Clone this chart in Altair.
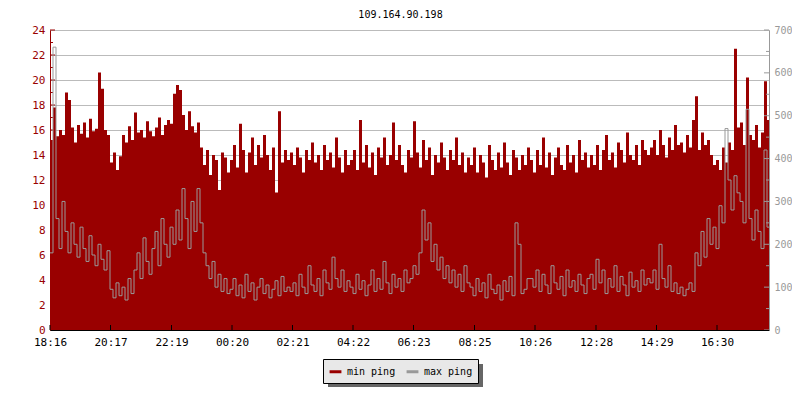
import altair as alt
import pandas as pd

FONT = "DejaVu Sans Mono"
title_text = "109.164.90.198"

tick_minutes = [0, 121, 243, 364, 485, 606, 727, 849, 970, 1092, 1213, 1334]
tick_labels = ["18:16", "20:17", "22:19", "00:20", "02:21", "04:22",
               "06:23", "08:25", "10:26", "12:28", "14:29", "16:30"]
step_minutes = 6

min_ping = [
    15.2, 17.8, 15.5, 16.0, 15.6, 19.0, 18.4, 16.2, 15.0, 16.4, 15.7, 16.6, 15.4, 16.9, 15.9, 16.1, 20.6, 19.3, 16.0, 15.6,
    13.4, 14.2, 12.8, 13.9, 15.6, 15.0, 16.3, 15.2, 17.4, 15.8, 16.0, 15.4, 16.7, 15.9, 15.5, 16.2, 17.0, 15.6, 16.4, 16.8,
    16.5, 18.9, 19.6, 19.2, 17.2, 16.0, 17.5, 16.3, 15.8, 16.6, 14.6, 13.2, 14.4, 12.4, 14.0, 13.6, 11.2, 14.2, 13.8, 12.6,
    13.6, 14.8, 13.0, 16.5, 14.4, 12.6, 14.2, 15.4, 13.2, 14.8, 13.8, 15.6, 14.0, 12.8, 14.6, 11.0, 17.5, 13.4, 14.4, 13.6,
    14.2, 13.2, 14.6, 13.8, 12.6, 14.4, 13.6, 15.0, 13.4, 14.0, 12.8, 14.8, 13.6, 14.2, 13.0, 15.4, 13.8, 12.6, 14.4, 13.2,
    13.6, 14.4, 12.8, 16.8, 13.4, 14.8, 13.0, 14.2, 12.4, 14.6, 13.8, 15.4, 13.2, 14.0, 16.6, 13.6, 14.8, 13.2, 12.6, 14.4,
    13.8, 16.7, 14.2, 13.0, 15.2, 13.6, 14.6, 12.4, 14.0, 13.4, 15.0, 13.8, 12.8, 14.4, 13.6, 15.4, 13.2, 14.2, 12.6, 13.8,
    13.2, 14.6, 12.6, 14.0, 13.4, 12.2, 14.8, 13.6, 12.8, 14.2, 13.0, 15.0, 13.4, 12.4, 14.4, 13.8, 12.8, 14.0, 13.2, 14.6,
    13.6, 12.6, 14.4, 13.2, 15.4, 13.0, 14.2, 12.4, 13.8, 14.6, 13.2, 12.8, 14.8, 13.4, 14.0, 12.6, 15.2, 13.6, 14.2, 13.0,
    14.0, 13.2, 14.8, 12.8, 14.4, 15.6, 13.6, 14.2, 13.0, 15.0, 14.4, 13.4, 15.8, 14.0, 13.6, 14.8, 13.2, 15.2, 14.4, 14.0,
    14.6, 15.2, 14.0, 16.0, 14.8, 13.8, 15.4, 14.4, 16.4, 14.8, 15.0, 14.2, 15.6, 14.6, 16.8, 18.7, 14.4, 15.8, 14.8, 15.2,
    14.0, 13.2, 13.6, 12.8, 14.6, 13.4, 15.0, 14.4, 22.5, 16.2, 16.6, 14.8, 20.2, 15.6, 15.2, 16.4, 14.6, 15.8, 19.9, 16.8,
]

max_ping = [
    180, 660, 260, 190, 300, 230, 180, 250, 200, 170, 240, 190, 160, 220, 175, 150, 200, 165, 140, 185,
    95, 75, 110, 80, 100, 70, 120, 85, 140, 180, 120, 215, 160, 130, 190, 230, 150, 260, 200, 170,
    240, 200, 280, 210, 330, 260, 190, 300, 230, 330, 250, 180, 150, 120, 160, 100, 130, 90, 120, 85,
    95, 120, 80, 105, 75, 130, 90, 110, 70, 100, 120, 85, 105, 75, 95, 115, 80, 125, 90, 100,
    90, 110, 80, 130, 100, 85, 150, 105, 90, 120, 80, 140, 110, 95, 170, 120, 100, 140, 90, 115,
    100, 85, 130, 95, 115, 80, 105, 140, 90, 120, 95, 160, 110, 85, 130, 100, 120, 90, 140, 110,
    120, 150, 130, 180, 280, 210, 250, 160, 200, 140, 170, 120, 150, 110, 140, 100, 130, 90, 150, 110,
    100, 80, 120, 90, 110, 75, 130, 95, 85, 105, 70, 115, 90, 125, 80, 250, 200, 85, 95, 120,
    120, 100, 140, 90, 130, 105, 85, 150, 110, 95, 125, 80, 140, 100, 115, 90, 130, 105, 85, 120,
    130, 95, 165, 110, 140, 85, 120, 100, 150, 90, 125, 105, 80, 135, 100, 115, 90, 140, 105, 120,
    110, 140, 95, 200, 120, 100, 150, 90, 110, 85, 100, 80, 95, 110, 90, 180, 150, 230, 170, 260,
    200, 240, 190, 290, 250, 470, 350, 280, 360, 320, 300, 250, 515, 260, 210, 280, 230, 190, 420, 240,
]

left_major_ticks = list(range(0, 25, 2))
left_minor_ticks = list(range(1, 24, 2))
right_major_ticks = list(range(0, 701, 100))
right_minor_ticks = list(range(50, 700, 100))

RED = "#990000"
GRAY = "#999999"

n = len(min_ping)
minutes = [i * step_minutes for i in range(n)] + [n * step_minutes]
df = pd.DataFrame({
    "minute": minutes,
    "min_ping": min_ping + [min_ping[-1]],
    "max_ping": max_ping + [max_ping[-1]],
})

label_expr = "".join(
    f"datum.value == {m} ? '{l}' : " for m, l in zip(tick_minutes, tick_labels)
) + "''"

x_scale = alt.Scale(domain=[0, 1438], nice=False, zero=False)
left_scale = alt.Scale(domain=[0, 24], nice=False)
right_scale = alt.Scale(domain=[0, 700], nice=False)
color_scale = alt.Scale(domain=["min ping", "max ping"], range=[RED, GRAY])

legend = alt.Legend(
    title=None, orient="none", legendX=273, legendY=329, direction="horizontal",
    fillColor="#e8e8e8", strokeColor="black", padding=5,
    symbolType="stroke", symbolStrokeWidth=3, symbolSize=140,
    labelFont=FONT, labelFontSize=10, labelColor="black", columnPadding=4,
)

x_axis = alt.Axis(
    values=tick_minutes, labelExpr=label_expr, grid=False, domainColor="black",
    tickSize=0, labelPadding=6, labelFont=FONT, labelFontSize=11, labelColor="black",
    title=None, zindex=1, labelFlush=False,
)
left_axis = alt.Axis(
    values=left_major_ticks, grid=True, gridColor="#bbbbbb", domainColor=RED,
    tickSize=0, labelColor=RED, labelFont=FONT, labelFontSize=11, labelPadding=5,
    title=None, orient="left")
right_axis = alt.Axis(
    values=right_major_ticks, grid=False, domainColor=GRAY, tickSize=0,
    labelColor=GRAY, labelFont=FONT, labelFontSize=10, labelPadding=5,
    title=None, orient="right", zindex=1)

base = alt.Chart(df)

area = base.transform_calculate(series="'min ping'").mark_area(
    interpolate="step-after", clip=True
).encode(
    x=alt.X("minute:Q", scale=x_scale, axis=x_axis),
    y=alt.Y("min_ping:Q", scale=left_scale, axis=left_axis),
    color=alt.Color("series:N", scale=color_scale, legend=legend),
)

line = base.transform_calculate(series="'max ping'").mark_line(
    interpolate="step-after", strokeWidth=1, clip=True
).encode(
    x=alt.X("minute:Q", scale=x_scale, axis=x_axis),
    y=alt.Y("max_ping:Q", scale=right_scale, axis=right_axis),
    color=alt.Color("series:N", scale=color_scale, legend=legend),
)

left_major = alt.Chart(pd.DataFrame({"v": left_major_ticks})).mark_rule(color=RED).encode(
    y=alt.Y("v:Q", scale=left_scale, axis=left_axis), x=alt.value(0), x2=alt.value(5))
left_minor = alt.Chart(pd.DataFrame({"v": left_minor_ticks})).mark_rule(color=RED).encode(
    y=alt.Y("v:Q", scale=left_scale, axis=left_axis), x=alt.value(0), x2=alt.value(3))
x_ticks = alt.Chart(pd.DataFrame({"m": tick_minutes})).mark_rule(color="black").encode(
    x=alt.X("m:Q", scale=x_scale, axis=x_axis), y=alt.value(295), y2=alt.value(300))

# drop shadow behind the legend box
legend_shadow = alt.Chart(pd.DataFrame({"k": [0]})).mark_rect(color="#666666").encode(
    x=alt.value(278), x2=alt.value(433), y=alt.value(334), y2=alt.value(357))

right_major = alt.Chart(pd.DataFrame({"v": right_major_ticks})).mark_rule(color=GRAY).encode(
    y=alt.Y("v:Q", scale=right_scale, axis=right_axis), x=alt.value(714), x2=alt.value(719))
right_minor = alt.Chart(pd.DataFrame({"v": right_minor_ticks})).mark_rule(color=GRAY).encode(
    y=alt.Y("v:Q", scale=right_scale, axis=right_axis), x=alt.value(716), x2=alt.value(719))

left = alt.layer(area, left_major, left_minor, x_ticks, legend_shadow)
right = alt.layer(line, right_major, right_minor)

chart = alt.layer(left, right).resolve_scale(y="independent").properties(
    width=719, height=300,
    autosize=alt.AutoSizeParams(type="none"),
    padding={"left": 42, "top": 22, "right": 23, "bottom": 68},
    title=alt.TitleParams(text=title_text, font=FONT, fontSize=10, fontWeight="normal",
                          color="black", anchor="middle", dx=-9, offset=4),
).configure_view(stroke=None).configure(background="white")

chart.save("out.html", embed_options={"renderer": "svg", "actions": False})
